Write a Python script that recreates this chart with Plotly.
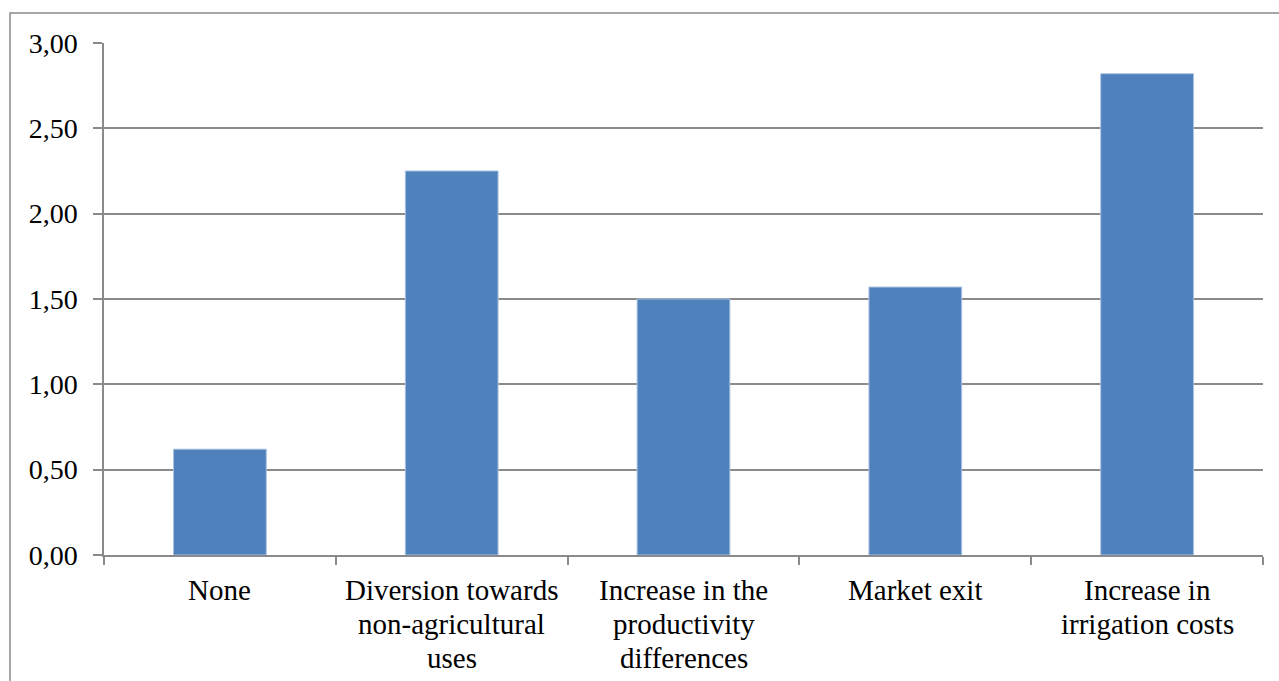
import plotly.graph_objects as go

# Categories (category label lines) and values
categories = [
    "None",
    "Diversion towards non-agricultural uses",
    "Increase in the productivity differences",
    "Market exit",
    "Increase in irrigation costs",
]
label_lines = [
    ["None"],
    ["Diversion towards", "non-agricultural", "uses"],
    ["Increase in the", "productivity", "differences"],
    ["Market exit"],
    ["Increase in", "irrigation costs"],
]
values = [0.62, 2.25, 1.50, 1.57, 2.82]
y_ticks = [0.0, 0.5, 1.0, 1.5, 2.0, 2.5, 3.0]

W, H = 1279, 681
M_L, M_R, M_T, M_B = 104, 16, 43, 126
plot_w = W - M_L - M_R
plot_h = H - M_T - M_B

FONT = "'Times New Roman', 'Liberation Serif', serif"
GRID = "#8a8a8a"
LABEL_SIZE = 29
LINE_STEP = 34

fig = go.Figure(
    go.Bar(
        x=categories,
        y=values,
        marker=dict(color="#4f81bd", line=dict(color="#a9c1df", width=1)),
        hoverinfo="y",
    )
)

# category labels, one annotation per text line for tighter line spacing
for cat, lines in zip(categories, label_lines):
    for i, line in enumerate(lines):
        fig.add_annotation(
            x=cat, xref="x", y=0, yref="paper",
            text=line, showarrow=False,
            xanchor="center", yanchor="top",
            yshift=-(17 + i * LINE_STEP),
            font=dict(family=FONT, size=LABEL_SIZE, color="black"),
        )

# outer frame of the chart area (extends past the right/bottom edge)
fx0 = (10 - M_L) / plot_w
fy1 = (M_T + plot_h - 13) / plot_h
fig.add_shape(
    type="rect", xref="paper", yref="paper",
    x0=fx0, x1=1.2, y0=-0.6, y1=fy1,
    line=dict(color="#8a8a8a", width=1.5), fillcolor="rgba(0,0,0,0)", layer="below",
)

fig.update_layout(
    width=W,
    height=H,
    margin=dict(l=M_L, r=M_R, t=M_T, b=M_B, pad=0, autoexpand=False),
    paper_bgcolor="white",
    plot_bgcolor="white",
    separators=",.",
    bargap=0.6,
    showlegend=False,
    font=dict(family=FONT, size=28, color="black"),
    xaxis=dict(
        type="category",
        range=[-0.5, 4.5],
        automargin=False,
        showline=True,
        linecolor=GRID,
        linewidth=1.5,
        ticks="outside",
        tickson="boundaries",
        ticklen=8,
        tickwidth=1.5,
        tickcolor=GRID,
        showgrid=False,
        showticklabels=False,
    ),
    yaxis=dict(
        range=[0, 3],
        automargin=False,
        tickvals=y_ticks,
        tickformat=".2f",
        showline=True,
        linecolor=GRID,
        linewidth=1.5,
        ticks="outside",
        ticklen=9,
        tickwidth=1.5,
        tickcolor=GRID,
        showgrid=True,
        gridcolor=GRID,
        gridwidth=1.5,
        zeroline=False,
        ticklabelstandoff=10,
        tickfont=dict(family=FONT, size=28, color="black"),
    ),
)

fig.write_html("out.html")
